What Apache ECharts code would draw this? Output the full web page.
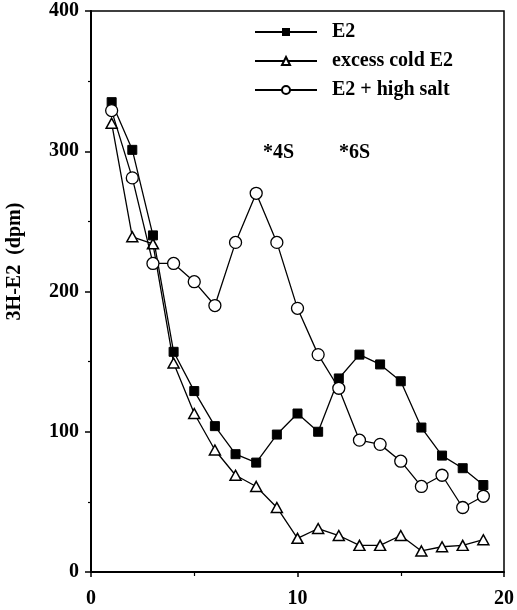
<!DOCTYPE html>
<html>
<head>
<meta charset="utf-8">
<script src="https://cdn.jsdelivr.net/npm/echarts@6/dist/echarts.min.js"></script>
<style>html,body{margin:0;padding:0;background:#fff}#c{width:517px;height:610px}</style>
</head>
<body>
<div id="c"></div>
<script>
var fractions = [1,2,3,4,5,6,7,8,9,10,11,12,13,14,15,16,17,18,19];
var e2 = [335,301,240,157,129,104,84,78,98,113,100,138,155,148,136,103,83,74,62];
var excessCold = [320,239,234,149,113,87,69,61,46,24,31,26,19,19,26,15,18,19,23];
var highSalt = [329,281,220,220,207,190,235,270,235,188,155,131,94,91,79,61,69,46,54];
var seriesNames = ['E2','excess cold E2','E2 + high salt'];
var xTickLabels = ['0','10','20'];
var yTickLabels = ['0','100','200','300','400'];
var annotations = ['*4S','*6S'];

var FONT = '"Liberation Serif", "DejaVu Serif", serif';
function pairs(v){ return v.map(function(y,i){ return [fractions[i], y]; }); }

var chart = echarts.init(document.getElementById('c'), null, {renderer:'canvas'});
var lineStyle = {color:'#000', width:1.3};
chart.setOption({
  animation:false,
  backgroundColor:'#fff',
  grid:{left:91, right:13, top:11, bottom:38, containLabel:false, outerBoundsMode:'none',
    show:true, borderColor:'#000', borderWidth:1.5, backgroundColor:'transparent'},
  xAxis:{
    type:'value', min:0, max:20, interval:10,
    axisLine:{show:true, onZero:false, lineStyle:{color:'#000', width:2}},
    axisTick:{show:true, length:5, lineStyle:{color:'#000', width:1.5}},
    minorTick:{show:true, splitNumber:2, length:4, lineStyle:{color:'#000', width:1.2}},
    splitLine:{show:false},
    axisLabel:{margin:17, color:'#000', fontFamily:FONT, fontWeight:'bold', fontSize:20,
      formatter:function(v){ var s=String(v); return xTickLabels.indexOf(s)>=0 ? s : ''; }}
  },
  yAxis:{
    type:'value', min:0, max:400, interval:100,
    name:'3H-E2  (dpm)', nameLocation:'middle', nameGap:66, nameRotate:90,
    nameTextStyle:{color:'#000', fontFamily:FONT, fontWeight:'bold', fontSize:20, padding:[0,0,0,60]},
    axisLine:{show:true, onZero:false, lineStyle:{color:'#000', width:2}},
    axisTick:{show:true, length:6, lineStyle:{color:'#000', width:1.5}},
    minorTick:{show:true, splitNumber:2, length:3, lineStyle:{color:'#000', width:1.2}},
    splitLine:{show:false},
    axisLabel:{margin:12, color:'#000', fontFamily:FONT, fontWeight:'bold', fontSize:20,
      formatter:function(v){ var s=String(v); return yTickLabels.indexOf(s)>=0 ? s : ''; }}
  },
  legend:{
    orient:'vertical', left:249, top:17, itemWidth:62, itemHeight:10, itemGap:9,
    textStyle:{color:'#000', fontFamily:FONT, fontWeight:'bold', fontSize:20, padding:[0,0,0,10]},
    data:seriesNames
  },
  graphic:[
    {type:'text', left:263, top:143, style:{text:annotations[0], fill:'#000', font:'bold 20px '+FONT}},
    {type:'text', left:339, top:143, style:{text:annotations[1], fill:'#000', font:'bold 20px '+FONT}}
  ],
  series:[
    {name:seriesNames[0], type:'line', data:pairs(e2), symbol:'rect', symbolSize:9,
      lineStyle:lineStyle, itemStyle:{color:'#000', borderColor:'#000'}, z:3},
    {name:seriesNames[1], type:'line', data:pairs(excessCold), symbol:'triangle', symbolSize:[11,10],
      lineStyle:lineStyle, itemStyle:{color:'#fff', borderColor:'#000', borderWidth:1.5}, z:4},
    {name:seriesNames[2], type:'line', data:pairs(highSalt), symbol:'circle', symbolSize:12,
      lineStyle:lineStyle, itemStyle:{color:'#fff', borderColor:'#000', borderWidth:1.3}, z:5}
  ]
});
</script>
</body>
</html>
